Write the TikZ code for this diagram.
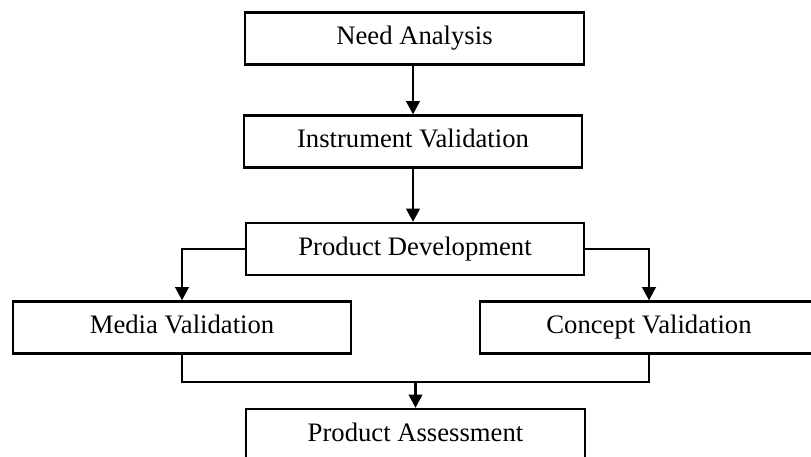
\documentclass[tikz,border=0pt]{standalone}
\usepackage{fontspec}
\setmainfont{Liberation Serif}
\usetikzlibrary{arrows.meta}

\tikzset{every picture/.style={line width=1.6pt}}
\tikzset{stagebox/.style={draw, rectangle, inner sep=0.75pt, minimum width=254pt, minimum height=39pt, text height=13pt, text depth=4pt, font=\fontsize{20}{23}\selectfont}}
\tikzset{flowline/.style={line width=2.2pt}}
\tikzset{flowarrow/.style={line width=2.2pt, -{Triangle[width=10pt,length=10pt]}}}

\begin{document}
\begin{tikzpicture}[x=0.75pt,y=0.75pt,yscale=-1,xscale=1]
%set diagram to 811 x 457
\useasboundingbox (0,0) rectangle (811,457);
\clip (0,0) rectangle (811,457);

% Text Node
\node [stagebox] (need) at (414.5,38.5) {Need Analysis};
% Text Node
\node [stagebox] (instr) at (413,141.5) {Instrument Validation};
% Text Node
\node [stagebox] (dev) at (415,249) {Product Development};
% Text Node
\node [stagebox] (media) at (182,327.5) {Media Validation};
% Text Node
\node [stagebox] (concept) at (649,327.5) {Concept Validation};
% Text Node
\node [stagebox] (assess) at (415.5,435) {Product Assessment};

%Straight Lines
\coordinate (merge) at (415.5,382);
\draw [flowarrow] (need.south -| instr.north) -- (instr.north);
\draw [flowarrow] (instr.south) -- (dev.north -| instr.south);
\draw [flowarrow] (dev.west) -| (media.north);
\draw [flowarrow] (dev.east) -| (concept.north);
\draw [flowline] (media.south) |- (merge) -| (concept.south);
\draw [flowarrow] (merge) -- (assess.north);

\end{tikzpicture}
\end{document}
